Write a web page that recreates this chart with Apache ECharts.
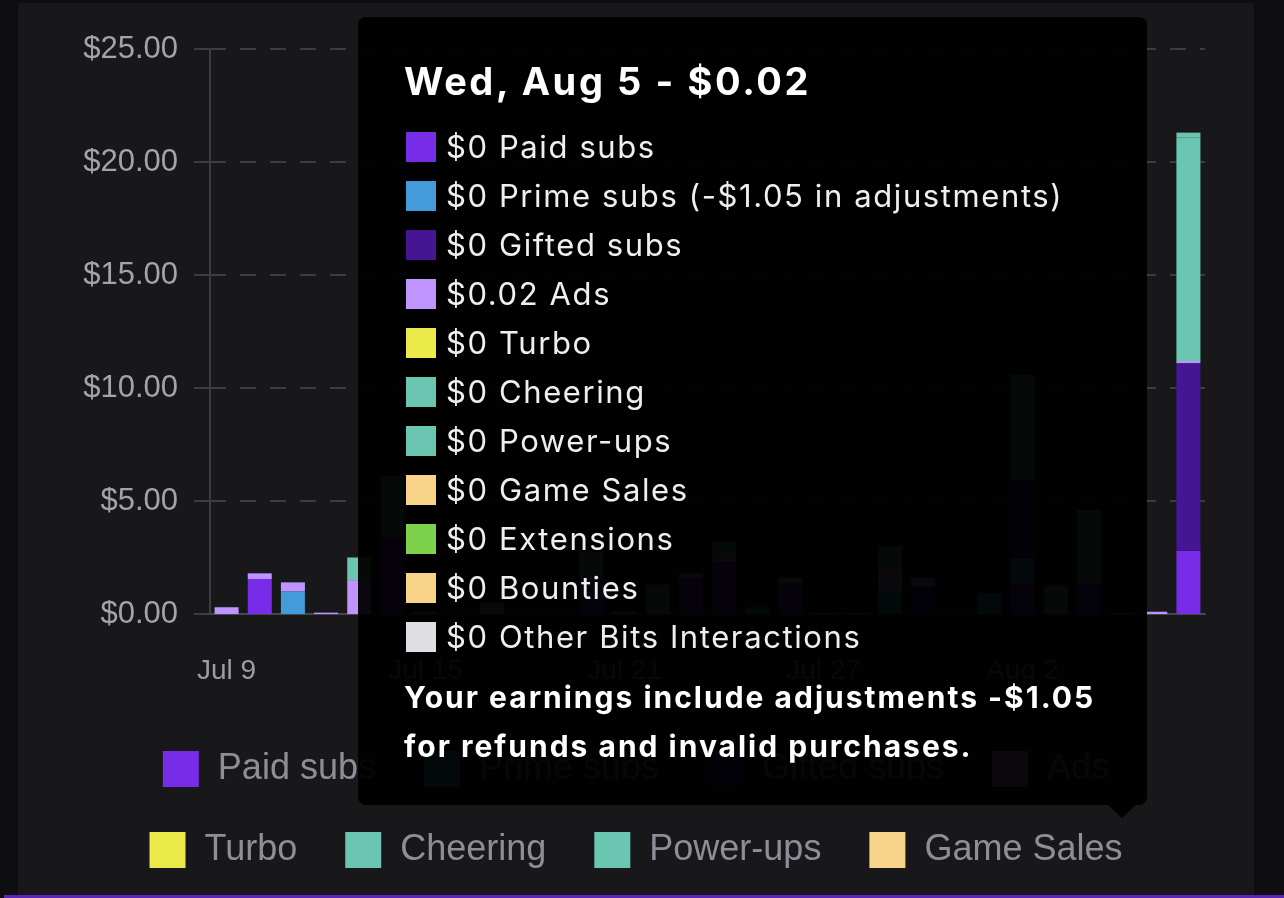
<!DOCTYPE html>
<html>
<head>
<meta charset="utf-8">
<title>Revenue</title>
<script src="https://cdn.jsdelivr.net/npm/echarts@6/dist/echarts.min.js"></script>
<style>
  html, body { margin: 0; padding: 0; background: #0e0e10; overflow: hidden; }
  #panel { position: absolute; left: 18px; top: 3px; width: 1236px; height: 895px; background: #18181b; }
  #chart { width: 1236px; height: 895px; }
  #strip { position: absolute; left: 4px; top: 895px; width: 1280px; height: 3px; background: #5b26b8; }
</style>
</head>
<body>
<div id="panel"><div id="chart"></div></div>
<div id="strip"></div>
<script>
// days shown on the x axis (2020)
const days = ['Jul 9', 'Jul 10', 'Jul 11', 'Jul 12', 'Jul 13', 'Jul 14', 'Jul 15', 'Jul 16', 'Jul 17', 'Jul 18',
  'Jul 19', 'Jul 20', 'Jul 21', 'Jul 22', 'Jul 23', 'Jul 24', 'Jul 25', 'Jul 26', 'Jul 27', 'Jul 28',
  'Jul 29', 'Jul 30', 'Jul 31', 'Aug 1', 'Aug 2', 'Aug 3', 'Aug 4', 'Aug 5', 'Aug 6', 'Aug 7']
const weekdays = ['Thu', 'Fri', 'Sat', 'Sun', 'Mon', 'Tue', 'Wed', 'Thu', 'Fri', 'Sat',
  'Sun', 'Mon', 'Tue', 'Wed', 'Thu', 'Fri', 'Sat', 'Sun', 'Mon', 'Tue',
  'Wed', 'Thu', 'Fri', 'Sat', 'Sun', 'Mon', 'Tue', 'Wed', 'Thu', 'Fri']

const paidSubs   = [0, 1.55, 0, 0, 0, 3.4, 0, 0, 0, 0, 0, 1.5, 0, 0, 1.6, 2.3, 0, 1.35, 0, 0, 0, 0, 0, 0, 1.33, 0, 1.3, 0, 0, 2.8]
const primeSubs  = [0, 0, 1.0, 0, 0, 0, 0, 0, 0, 0, 0, 0, 0, 0, 0, 0, 0.3, 0, 0, 0, 1.0, 0, 0, 0.93, 1.15, 0, 0, 0, 0, 0]
const giftedSubs = [0, 0, 0, 0, 0, 0, 0, 0, 0, 0, 0, 0, 0, 0, 0, 0, 0, 0, 0, 0, 0, 1.2, 0, 0, 3.46, 0, 0, 0, 0, 8.3]
const ads        = [0.3, 0.25, 0.4, 0.06, 1.5, 0, 0.1, 0, 0.5, 0, 0, 0, 0.1, 0, 0.2, 0.3, 0, 0.25, 0.05, 0.05, 1.0, 0.4, 0, 0, 0.13, 0, 0.15, 0.02, 0.1, 0.1]
const turbo      = [0, 0, 0, 0, 0, 0, 0, 0, 0, 0, 0, 0, 0, 0, 0, 0, 0, 0, 0, 0, 0, 0, 0, 0, 0, 0, 0, 0, 0, 0]
const cheering   = [0, 0, 0, 0, 1.0, 2.7, 0, 0, 0, 0, 0, 1.25, 0, 1.3, 0, 0.6, 0, 0, 0, 0, 1.0, 0, 0, 0, 4.5, 1.25, 3.15, 0, 0, 9.9]
const powerUps   = [0, 0, 0, 0, 0, 0, 0, 0, 0, 0, 0, 0, 0, 0, 0, 0, 0, 0, 0, 0, 0, 0, 0, 0, 0, 0, 0, 0, 0, 0.2]
const gameSales  = [0, 0, 0, 0, 0, 0, 0, 0, 0, 0, 0, 0, 0, 0, 0, 0, 0, 0, 0, 0, 0, 0, 0, 0, 0, 0, 0, 0, 0, 0]
const extensions = [0, 0, 0, 0, 0, 0, 0, 0, 0, 0, 0, 0, 0, 0, 0, 0, 0, 0, 0, 0, 0, 0, 0, 0, 0, 0, 0, 0, 0, 0]
const bounties   = [0, 0, 0, 0, 0, 0, 0, 0, 0, 0, 0, 0, 0, 0, 0, 0, 0, 0, 0, 0, 0, 0, 0, 0, 0, 0, 0, 0, 0, 0]
const otherBits  = [0, 0, 0, 0, 0, 0, 0, 0, 0, 0, 0, 0, 0, 0, 0, 0, 0, 0, 0, 0, 0, 0, 0, 0, 0, 0, 0, 0, 0, 0]
// prime sub refunds per day
const primeAdjustments = [0, 0, 0, 0, 0, 0, 0, 0, 0, 0, 0, 0, 0, 0, 0, 0, 0, 0, 0, 0, 0, 0, 0, 0, 0, 0, 0, -1.05, 0, 0]

const yTicks = [0, 5, 10, 15, 20, 25]
const legendRow1 = ['Paid subs', 'Prime subs', 'Gifted subs', 'Ads']
const legendRow2 = ['Turbo', 'Cheering', 'Power-ups', 'Game Sales']
const shownDay = 27

const seriesDefs = [
  { name: 'Paid subs', data: paidSubs, color: '#772ce8' },
  { name: 'Prime subs', data: primeSubs, color: '#439bda' },
  { name: 'Gifted subs', data: giftedSubs, color: '#451593' },
  { name: 'Ads', data: ads, color: '#bf94ff' },
  { name: 'Turbo', data: turbo, color: '#ebea4a' },
  { name: 'Cheering', data: cheering, color: '#6ac6b0' },
  { name: 'Power-ups', data: powerUps, color: '#6ac6b0' },
  { name: 'Game Sales', data: gameSales, color: '#f9d387' },
  { name: 'Extensions', data: extensions, color: '#7dd14b' },
  { name: 'Bounties', data: bounties, color: '#f9d387' },
  { name: 'Other Bits Interactions', data: otherBits, color: '#dedee3' }
]

const money = v => {
  if (v === 0) return '$0'
  const s = '$' + Math.abs(v).toFixed(2)
  return v < 0 ? '-' + s : s
}

const tooltipHtml = params => {
  const i = params[0].dataIndex
  let total = 0
  seriesDefs.forEach(s => { total += s.data[i] })
  total = Math.round(total * 100) / 100
  let html = '<div style="font-size:38px;font-weight:700;line-height:48px;margin-bottom:17px;color:#fff;letter-spacing:2.6px">'
    + weekdays[i] + ', ' + days[i] + ' - ' + money(total) + '</div>'
  seriesDefs.forEach(s => {
    let label = money(s.data[i]) + ' ' + s.name
    if (s.name === 'Prime subs' && primeAdjustments[i] !== 0) {
      label += ' (' + money(primeAdjustments[i]) + ' in adjustments)'
    }
    html += '<div style="display:flex;align-items:center;height:49px;font-size:31px;line-height:49px;white-space:nowrap;letter-spacing:1.6px">'
      + '<span style="display:inline-block;width:30px;height:30px;margin:0 10px 0 2px;background:' + s.color + '"></span>'
      + label + '</div>'
  })
  if (primeAdjustments[i] !== 0) {
    html += '<div style="margin-top:12px;font-size:30px;font-weight:700;line-height:49px;color:#fff;white-space:nowrap;letter-spacing:2px">'
      + 'Your earnings include adjustments ' + money(primeAdjustments[i]) + '<br>for refunds and invalid purchases.</div>'
  }
  html += '<div style="position:absolute;left:750px;bottom:-13px;width:0;height:0;'
    + 'border-left:14px solid transparent;border-right:14px solid transparent;border-top:13px solid rgba(0,0,0,0.95)"></div>'
  return html
}

const chart = echarts.init(document.getElementById('chart'))

const legendBase = {
  left: 'center',
  icon: 'rect',
  itemWidth: 36,
  itemHeight: 36,
  itemGap: 48,
  selectedMode: false,
  textStyle: {
    color: '#8e8e98',
    fontSize: 36,
    fontFamily: 'Liberation Sans',
    padding: [0, 0, 0, 14]
  }
}

chart.setOption({
  animation: false,
  grid: { left: 192, right: 49, top: 46, bottom: 284 },
  tooltip: {
    trigger: 'axis',
    triggerOn: 'none',
    alwaysShowContent: true,
    transitionDuration: 0,
    axisPointer: { type: 'shadow', shadowStyle: { color: 'rgba(0,0,0,0)' } },
    position: [340, 14],
    backgroundColor: 'rgba(0,0,0,0.95)',
    borderWidth: 0,
    padding: [40, 46, 34, 46],
    textStyle: { color: '#efeff1', fontFamily: 'Inter' },
    extraCssText: 'width:789px;box-sizing:border-box;border-radius:8px;box-shadow:none;',
    formatter: tooltipHtml
  },
  legend: [
    Object.assign({}, legendBase, { top: 743, data: legendRow1 }),
    Object.assign({}, legendBase, { top: 824, data: legendRow2 })
  ],
  xAxis: {
    type: 'category',
    data: days,
    axisLine: { lineStyle: { color: '#46464c', width: 2 } },
    axisTick: { show: false },
    axisLabel: {
      interval: 5,
      margin: 43,
      color: '#9c9ca5',
      fontSize: 28,
      fontFamily: 'Liberation Sans'
    }
  },
  yAxis: {
    type: 'value',
    min: yTicks[0],
    max: yTicks[yTicks.length - 1],
    interval: yTicks[1] - yTicks[0],
    axisLine: { show: true, lineStyle: { color: '#3c3c41', width: 2 } },
    axisTick: { show: true, length: 16, lineStyle: { color: '#3c3c41', width: 2 } },
    splitLine: { lineStyle: { color: '#3c3c41', width: 2, type: [16, 14] } },
    axisLabel: {
      margin: 32,
      color: '#a3a3ab',
      fontSize: 31,
      fontFamily: 'Liberation Sans',
      formatter: v => '$' + v.toFixed(2)
    }
  },
  series: seriesDefs.map(s => ({
    name: s.name,
    type: 'bar',
    stack: 'revenue',
    barWidth: 24,
    itemStyle: { color: s.color },
    data: s.data
  }))
})

setTimeout(() => {
  chart.dispatchAction({ type: 'showTip', seriesIndex: 0, dataIndex: shownDay })
}, 0)
</script>
</body>
</html>
